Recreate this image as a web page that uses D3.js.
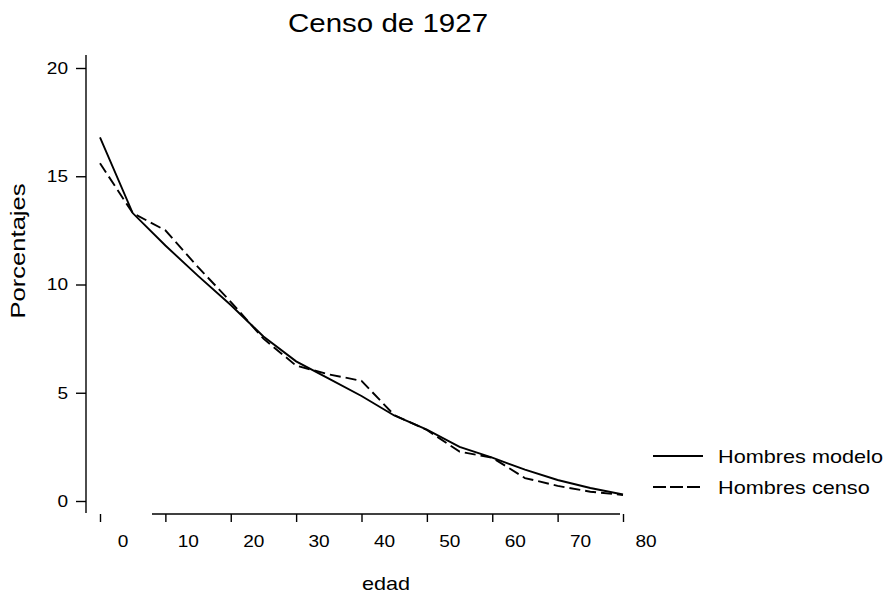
<!DOCTYPE html>
<html>
<head>
<meta charset="utf-8">
<script src="https://cdn.jsdelivr.net/npm/d3@7"></script>
<style>
  body { margin: 0; background: #fff; }
  text { font-family: "Liberation Sans", Arial, sans-serif; fill: #000; }
</style>
</head>
<body>
<div id="chart-area"></div>
<script>
// ages 0..80 every 5 years
var ages = [0, 5, 10, 15, 20, 25, 30, 35, 40, 45, 50, 55, 60, 65, 70, 75, 80];
var modelo = [16.8, 13.3, 11.8, 10.4, 9.05, 7.6, 6.45, 5.65, 4.85, 3.95, 3.3, 2.5, 2.0, 1.45, 0.97, 0.6, 0.3];
var censo = [15.6, 13.3, 12.5, 10.8, 9.2, 7.5, 6.25, 5.85, 5.55, 3.97, 3.28, 2.28, 2.0, 1.06, 0.7, 0.43, 0.28];
var xTicks = [0, 10, 20, 30, 40, 50, 60, 70, 80];
var yTicks = [0, 5, 10, 15, 20];
var seriesNames = ['Hombres modelo', 'Hombres censo'];

var W = 890, H = 593;

var svg = d3.select('#chart-area')
    .append('svg')
    .attr('width', W)
    .attr('height', H);

var x = d3.scaleLinear().domain([0, 80]).range([100, 623]);
var y = d3.scaleLinear().domain([0, 20]).range([501, 68]);

// the scanned original is a bit wider than normal fonts
function stretch(sel, k) {
    sel.each(function() {
        var w = this.getComputedTextLength();
        this.setAttribute('textLength', w * k);
        this.setAttribute('lengthAdjust', 'spacingAndGlyphs');
    });
}

// title
svg.append('text')
    .text('Censo de 1927')
    .attr('x', 388)
    .attr('y', 32)
    .attr('text-anchor', 'middle')
    .attr('font-size', '25px')
    .call(stretch, 1.18);

// y axis
var yAxis = svg.append('g')
    .attr('transform', 'translate(86,0)')
    .call(d3.axisLeft(y).tickValues(yTicks).tickSize(10).tickPadding(8).tickFormat(d3.format('d')));
yAxis.select('.domain').remove();
yAxis.selectAll('.tick line').attr('stroke', '#000').attr('stroke-width', 1.4);
yAxis.selectAll('text').attr('font-size', '17px').call(stretch, 1.12);
svg.append('line')
    .attr('x1', 86).attr('x2', 86)
    .attr('y1', 55).attr('y2', 513)
    .attr('stroke', '#000').attr('stroke-width', 1.4);

// x axis
var xAxis = svg.append('g')
    .attr('transform', 'translate(0,514)')
    .call(d3.axisBottom(x).tickValues(xTicks).tickSize(8).tickPadding(13).tickFormat(d3.format('d')));
xAxis.select('.domain').remove();
xAxis.selectAll('.tick line').attr('stroke', '#000').attr('stroke-width', 1.4);
xAxis.selectAll('text')
    .attr('dx', 22.5)
    .attr('font-size', '17px')
    .call(stretch, 1.12);
svg.append('line')
    .attr('x1', 152).attr('x2', 620)
    .attr('y1', 514).attr('y2', 514)
    .attr('stroke', '#000').attr('stroke-width', 1.4);

// axis titles
svg.append('text')
    .text('edad')
    .attr('x', 386)
    .attr('y', 590)
    .attr('text-anchor', 'middle')
    .attr('font-size', '19px')
    .call(stretch, 1.14);

svg.append('text')
    .text('Porcentajes')
    .attr('transform', 'translate(25,251) rotate(-90)')
    .attr('text-anchor', 'middle')
    .attr('font-size', '20px')
    .call(stretch, 1.28);

// lines
var line = d3.line()
    .x(function(d, i) { return x(ages[i]); })
    .y(function(d) { return y(d); });

svg.append('path')
    .datum(modelo)
    .attr('d', line)
    .attr('fill', 'none')
    .attr('stroke', '#000')
    .attr('stroke-width', 1.9);

svg.append('path')
    .datum(censo)
    .attr('d', line)
    .attr('fill', 'none')
    .attr('stroke', '#000')
    .attr('stroke-width', 1.9)
    .attr('stroke-dasharray', '11,5');

// legend
var legend = svg.append('g');
var dashes = [null, '13,4'];
seriesNames.forEach(function(name, i) {
    var ly = 456 + i * 31;
    legend.append('line')
        .attr('x1', 653).attr('x2', 703)
        .attr('y1', ly).attr('y2', ly)
        .attr('stroke', '#000')
        .attr('stroke-width', 1.9)
        .attr('stroke-dasharray', dashes[i]);
    legend.append('text')
        .text(name)
        .attr('x', 718)
        .attr('y', ly + 7)
        .attr('font-size', '19px')
        .call(stretch, 1.14);
});
</script>
</body>
</html>
